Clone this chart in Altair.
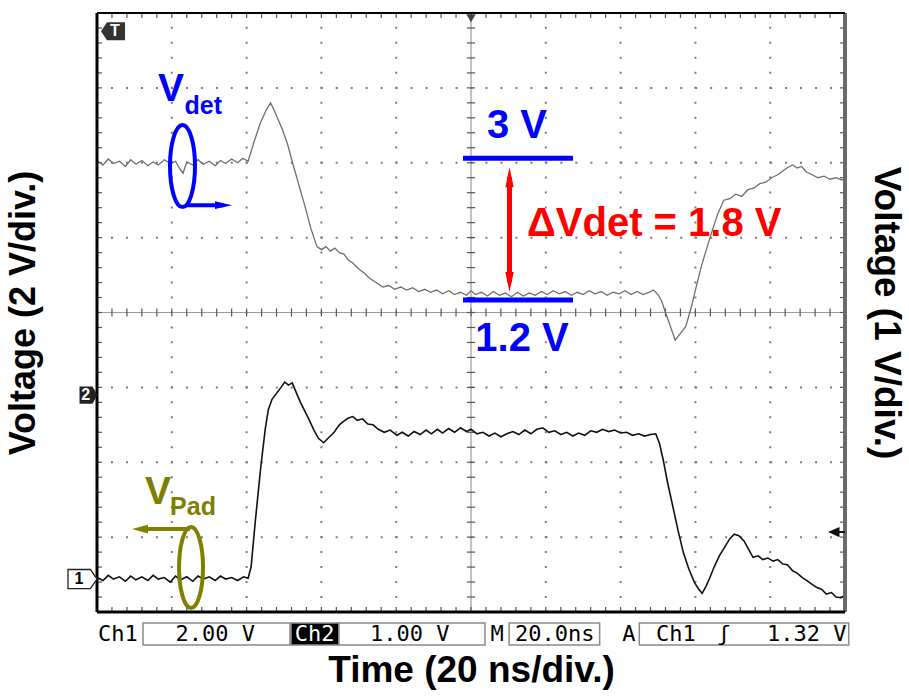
import altair as alt
import pandas as pd

# ---------------- trace data (screen divisions: x 0..10, y 0..8 from bottom) -------------
vdet_t = [0.00, 0.08, 0.15, 0.22, 0.30, 0.38, 0.45, 0.52, 0.60, 0.68, 0.75, 0.82, 0.90, 0.98,
          1.05, 1.10, 1.15, 1.20, 1.28, 1.35, 1.42, 1.50, 1.58, 1.65, 1.72, 1.80, 1.88, 1.95,
          2.02, 2.10, 2.18, 2.26, 2.32, 2.36, 2.42, 2.48, 2.55, 2.62, 2.70, 2.78, 2.86, 2.94,
          3.00, 3.06, 3.12, 3.18, 3.24, 3.30, 3.36, 3.42, 3.50, 3.58, 3.64, 3.70, 3.76, 3.82,
          3.90, 3.98, 4.06, 4.14, 4.22, 4.30, 4.38, 4.46, 4.54, 4.62, 4.70, 4.78, 4.86, 4.94,
          5.00, 5.06, 5.14, 5.22, 5.30, 5.38, 5.46, 5.54, 5.62, 5.70, 5.78, 5.86, 5.94, 6.02,
          6.10, 6.18, 6.26, 6.34, 6.42, 6.50, 6.58, 6.66, 6.74, 6.82, 6.90, 6.98, 7.06, 7.14,
          7.22, 7.30, 7.38, 7.44, 7.50, 7.55, 7.60, 7.65, 7.73, 7.80, 7.87, 7.94, 8.00, 8.08,
          8.15, 8.22, 8.30, 8.38, 8.46, 8.54, 8.62, 8.70, 8.78, 8.86, 8.94, 9.02, 9.10, 9.18,
          9.24, 9.30, 9.36, 9.42, 9.48, 9.56, 9.64, 9.72, 9.80, 9.88, 9.96, 10.0]
vdet_v = [6.03, 5.97, 6.05, 5.99, 6.02, 5.95, 6.04, 5.98, 6.03, 5.96, 6.01, 5.97, 6.04, 5.99,
          6.02, 5.93, 5.86, 6.01, 5.97, 6.04, 5.98, 6.02, 5.96, 6.03, 5.99, 6.05, 6.00, 6.06,
          6.02, 6.28, 6.52, 6.70, 6.80, 6.72, 6.58, 6.44, 6.24, 5.98, 5.70, 5.42, 5.12, 4.88,
          4.84, 4.88, 4.82, 4.86, 4.80, 4.78, 4.70, 4.66, 4.58, 4.52, 4.46, 4.42, 4.38, 4.34,
          4.36, 4.31, 4.34, 4.30, 4.33, 4.28, 4.31, 4.27, 4.30, 4.25, 4.29, 4.24, 4.27, 4.23,
          4.29, 4.24, 4.27, 4.22, 4.28, 4.23, 4.26, 4.21, 4.27, 4.22, 4.26, 4.23, 4.28, 4.24,
          4.29, 4.25, 4.28, 4.23, 4.27, 4.24, 4.29, 4.25, 4.28, 4.23, 4.27, 4.25, 4.29, 4.24,
          4.28, 4.24, 4.27, 4.30, 4.24, 4.15, 4.00, 3.86, 3.63, 3.72, 3.81, 4.05, 4.30, 4.62,
          4.85, 5.08, 5.32, 5.50, 5.52, 5.58, 5.55, 5.64, 5.66, 5.72, 5.74, 5.80, 5.84, 5.90,
          5.94, 5.97, 5.93, 5.95, 5.88, 5.84, 5.80, 5.82, 5.78, 5.80, 5.77, 5.79]

vpad_t = [0.00, 0.08, 0.15, 0.22, 0.30, 0.38, 0.45, 0.52, 0.60, 0.68, 0.75, 0.82, 0.90, 0.98,
          1.05, 1.12, 1.20, 1.28, 1.35, 1.42, 1.50, 1.58, 1.65, 1.72, 1.80, 1.88, 1.96, 2.02,
          2.06, 2.12, 2.19, 2.25, 2.29, 2.34, 2.40, 2.46, 2.51, 2.56, 2.61, 2.66, 2.72, 2.78,
          2.84, 2.90, 2.96, 3.03, 3.10, 3.17, 3.24, 3.30, 3.36, 3.42, 3.48, 3.55, 3.62, 3.69,
          3.76, 3.84, 3.92, 4.01, 4.08, 4.16, 4.24, 4.32, 4.40, 4.47, 4.55, 4.62, 4.70, 4.78,
          4.86, 4.94, 5.00, 5.08, 5.16, 5.24, 5.32, 5.40, 5.48, 5.56, 5.64, 5.72, 5.80, 5.88,
          5.96, 6.04, 6.12, 6.20, 6.28, 6.36, 6.44, 6.52, 6.60, 6.68, 6.76, 6.84, 6.92, 7.00,
          7.08, 7.16, 7.24, 7.32, 7.40, 7.47, 7.52, 7.57, 7.63, 7.70, 7.77, 7.84, 7.91, 7.99,
          8.04, 8.09, 8.14, 8.19, 8.25, 8.32, 8.40, 8.46, 8.52, 8.58, 8.65, 8.71, 8.77, 8.84,
          8.90, 8.97, 9.04, 9.10, 9.17, 9.23, 9.30, 9.36, 9.43, 9.49, 9.56, 9.62, 9.69, 9.75,
          9.82, 9.88, 9.95, 10.0]
vpad_v = [0.46, 0.42, 0.49, 0.44, 0.47, 0.41, 0.48, 0.43, 0.47, 0.42, 0.49, 0.44, 0.46, 0.40,
          0.48, 0.43, 0.47, 0.41, 0.48, 0.44, 0.47, 0.42, 0.48, 0.44, 0.46, 0.42, 0.47, 0.45,
          0.60, 1.25, 1.94, 2.45, 2.70, 2.84, 2.92, 3.00, 3.07, 3.03, 3.06, 2.94, 2.80, 2.68,
          2.56, 2.43, 2.32, 2.26, 2.33, 2.40, 2.50, 2.55, 2.59, 2.61, 2.56, 2.58, 2.51, 2.50,
          2.44, 2.40, 2.43, 2.36, 2.40, 2.35, 2.41, 2.37, 2.43, 2.38, 2.44, 2.39, 2.45, 2.40,
          2.46, 2.41, 2.44, 2.38, 2.40, 2.35, 2.39, 2.34, 2.38, 2.41, 2.37, 2.43, 2.38, 2.44,
          2.46, 2.40, 2.42, 2.37, 2.40, 2.35, 2.39, 2.36, 2.42, 2.40, 2.44, 2.41, 2.43, 2.39,
          2.40, 2.36, 2.38, 2.35, 2.37, 2.38, 2.25, 2.03, 1.72, 1.40, 1.08, 0.79, 0.58, 0.39,
          0.31, 0.25, 0.34, 0.45, 0.60, 0.75, 0.88, 0.98, 1.04, 1.02, 0.95, 0.84, 0.73, 0.75,
          0.70, 0.72, 0.68, 0.70, 0.64, 0.63, 0.55, 0.52, 0.46, 0.42, 0.37, 0.33, 0.30, 0.24,
          0.26, 0.20, 0.19, 0.23]

# ---------------- texts -------------
x_title = "Time (20 ns/div.)"
y_left_title = "Voltage (2 V/div.)"
y_right_title = "Voltage (1 V/div.)"

ann_text = ["V", "det", "3 V", "1.2 V", "V", "Pad"]
ann_x = [0.99, 1.42, 5.615, 5.682, 0.816, 1.283]
ann_y = [6.98, 6.755, 6.49, 3.645, 1.60, 1.40]
ann_size = [39, 25, 40, 40, 39, 25]
ann_color = ["#0000ff", "#0000ff", "#0000ff", "#0000ff", "#808000", "#808000"]

delta_text = ["\u0394Vdet = 1.8 V"]
delta_x = [5.749]
delta_y = [5.18]

# level lines (3 V and 1.2 V)
lvl_x1 = [4.893, 4.893]
lvl_x2 = [6.364, 6.364]
lvl_y = [6.061, 4.166]

# status bar
status_text = ["Ch1", "2.00 V", "Ch2", "1.00 V", "M", "20.0ns", "A", "Ch1", "\u0283", "1.32 V"]
status_x = [0.28, 1.58, 2.91, 4.18, 5.35, 6.12, 7.11, 7.74, 8.38, 9.49]
status_color = ["black", "black", "white", "black", "black", "black", "black", "black", "black", "black"]
box_x1 = [0.615, 2.594, 3.235, 5.51, 7.25]
box_x2 = [2.58, 3.235, 5.187, 6.72, 10.05]
box_fill = ["white", "black", "white", "white", "white"]

grid_x = [1, 2, 3, 4, 6, 7, 8, 9]
grid_y = [1, 2, 3, 5, 6, 7]
minor_x = [i / 5 for i in range(1, 50)]
minor_y = [i / 5 for i in range(1, 40)]

# ---------------- scales -------------
XS = alt.Scale(domain=[0, 10], nice=False, zero=False)
YS = alt.Scale(domain=[0, 8], nice=False, zero=False)


def ex(f):
    return alt.X(f + ":Q", scale=XS, axis=None)


def ey(f):
    return alt.Y(f + ":Q", scale=YS, axis=None)


FONT = "Liberation Sans"

# grid (dotted)
vgrid = alt.Chart(pd.DataFrame({"x": grid_x, "y0": 0, "y1": 8})).mark_rule(
    color="#7a7a7a", strokeWidth=2, strokeDash=[2, 12.98], strokeDashOffset=1
).encode(x=ex("x"), y=ey("y0"), y2="y1:Q")
hgrid = alt.Chart(pd.DataFrame({"y": grid_y, "x0": 0, "x1": 10})).mark_rule(
    color="#7a7a7a", strokeWidth=2, strokeDash=[2, 12.98], strokeDashOffset=1
).encode(y=ey("y"), x=ex("x0"), x2="x1:Q")

# center crosshair
cross_v = alt.Chart(pd.DataFrame({"x": [5], "y0": [0], "y1": [8]})).mark_rule(
    color="#9a9a9a", strokeWidth=1.2).encode(x=ex("x"), y=ey("y0"), y2="y1:Q")
cross_h = alt.Chart(pd.DataFrame({"y": [4], "x0": [0], "x1": [10]})).mark_rule(
    color="#9a9a9a", strokeWidth=1.2).encode(y=ey("y"), x=ex("x0"), x2="x1:Q")

# minor ticks
tv_rows = []
for m in minor_x:
    tv_rows.append({"x": m, "y0": 0, "y1": 0.067})
    tv_rows.append({"x": m, "y0": 8 - 0.067, "y1": 8})
    tv_rows.append({"x": m, "y0": 4 - 0.055, "y1": 4 + 0.055})
th_rows = []
for m in minor_y:
    th_rows.append({"y": m, "x0": 0, "x1": 0.067})
    th_rows.append({"y": m, "x0": 10 - 0.067, "x1": 10})
    th_rows.append({"y": m, "x0": 5 - 0.055, "x1": 5 + 0.055})
ticks_v = alt.Chart(pd.DataFrame(tv_rows)).mark_rule(color="#555", strokeWidth=1.2).encode(
    x=ex("x"), y=ey("y0"), y2="y1:Q")
ticks_h = alt.Chart(pd.DataFrame(th_rows)).mark_rule(color="#555", strokeWidth=1.2).encode(
    y=ey("y"), x=ex("x0"), x2="x1:Q")

# traces
vdet = alt.Chart(pd.DataFrame({"t": vdet_t, "v": vdet_v})).mark_line(
    color="#6e6e6e", strokeWidth=1.3).encode(x=ex("t"), y=ey("v"))
vpad = alt.Chart(pd.DataFrame({"t": vpad_t, "v": vpad_v})).mark_line(
    color="#111111", strokeWidth=1.6).encode(x=ex("t"), y=ey("v"))

# borders + axis titles
left_axis = alt.Axis(title=y_left_title, labels=False, ticks=False, domain=False, grid=False,
                     orient="left", titleFont=FONT, titleFontSize=36, titleFontWeight="bold",
                     titleColor="black", titlePadding=55)
right_axis = alt.Axis(title=y_right_title, labels=False, ticks=False, domain=False, grid=False,
                      orient="right", titleAngle=90, titleFont=FONT, titleFontSize=37,
                      titleFontWeight="bold", titleColor="black", titlePadding=21)
bottom_axis = alt.Axis(title=x_title, labels=False, ticks=False, domain=False, grid=False,
                       orient="bottom", titleFont=FONT, titleFontSize=37, titleFontWeight="bold",
                       titleColor="black", titlePadding=40)

b_left = alt.Chart(pd.DataFrame({"x": [0], "y0": [0], "y1": [8]})).mark_rule(
    color="black", strokeWidth=3).encode(
    x=ex("x"), y=alt.Y("y0:Q", scale=YS, axis=left_axis), y2="y1:Q")
b_right = alt.Chart(pd.DataFrame({"x": [10], "y0": [0], "y1": [8]})).mark_rule(
    color="#6a6a6a", strokeWidth=4).encode(
    x=ex("x"), y=alt.Y("y0:Q", scale=YS, axis=right_axis), y2="y1:Q")
b_bottom = alt.Chart(pd.DataFrame({"y": [0], "x0": [0], "x1": [10]})).mark_rule(
    color="black", strokeWidth=3).encode(
    y=ey("y"), x=alt.X("x0:Q", scale=XS, axis=bottom_axis), x2="x1:Q")
b_top = alt.Chart(pd.DataFrame({"y": [8], "x0": [0], "x1": [10]})).mark_rule(
    color="black", strokeWidth=2).encode(y=ey("y"), x=ex("x0"), x2="x1:Q")

# annotations
ann_df = pd.DataFrame({"x": ann_x, "y": ann_y, "t": ann_text, "s": ann_size, "c": ann_color})
ann = alt.Chart(ann_df).mark_text(font=FONT, fontWeight="bold", baseline="middle", align="center").encode(
    x=ex("x"), y=ey("y"), text="t:N",
    size=alt.Size("s:Q", scale=None, legend=None),
    color=alt.Color("c:N", scale=None))
delta = alt.Chart(pd.DataFrame({"x": delta_x, "y": delta_y, "t": delta_text})).mark_text(
    font=FONT, fontWeight="bold", fontSize=40, color="#ff0000", align="left", baseline="middle"
).encode(x=ex("x"), y=ey("y"), text="t:N")

levels = alt.Chart(pd.DataFrame({"x0": lvl_x1, "x1": lvl_x2, "y": lvl_y})).mark_rule(
    color="#0000ff", strokeWidth=5).encode(x=ex("x0"), x2="x1:Q", y=ey("y"))

# red double arrow
red_shaft = alt.Chart(pd.DataFrame({"x": [5.515], "y0": [4.406], "y1": [5.808]})).mark_rule(
    color="#ff0000", strokeWidth=5).encode(x=ex("x"), y=ey("y0"), y2="y1:Q")
red_up = alt.Chart(pd.DataFrame({"x": [5.515], "y": [5.808]})).mark_point(
    shape="M 0,-1 L 0.42,1 L -0.42,1 Z", size=400, filled=True, color="#ff0000", opacity=1
).encode(x=ex("x"), y=ey("y"))
red_dn = alt.Chart(pd.DataFrame({"x": [5.515], "y": [4.406]})).mark_point(
    shape="M 0,1 L 0.42,-1 L -0.42,-1 Z", size=400, filled=True, color="#ff0000", opacity=1
).encode(x=ex("x"), y=ey("y"))

# ellipses + arrows
ell_b = ("M 0,-1 C 0.1684,-1 0.305,-0.5523 0.305,0 C 0.305,0.5523 0.1684,1 0,1 "
         "C -0.1684,1 -0.305,0.5523 -0.305,0 C -0.305,-0.5523 -0.1684,-1 0,-1 Z")
ell_o = ("M 0,-1 C 0.1635,-1 0.296,-0.5523 0.296,0 C 0.296,0.5523 0.1635,1 0,1 "
         "C -0.1635,1 -0.296,0.5523 -0.296,0 C -0.296,-0.5523 -0.1635,-1 0,-1 Z")
blue_ell = alt.Chart(pd.DataFrame({"x": [1.143], "y": [5.955]})).mark_point(
    shape=ell_b, size=6724, filled=False, color="#0000ff", strokeWidth=4, opacity=1
).encode(x=ex("x"), y=ey("y"))
olive_ell = alt.Chart(pd.DataFrame({"x": [1.257], "y": [0.594]})).mark_point(
    shape=ell_o, size=6561, filled=False, color="#808000", strokeWidth=4, opacity=1
).encode(x=ex("x"), y=ey("y"))
blue_line = alt.Chart(pd.DataFrame({"x0": [1.20], "x1": [1.69], "y": [5.434]})).mark_rule(
    color="#0000ff", strokeWidth=4).encode(x=ex("x0"), x2="x1:Q", y=ey("y"))
blue_head = alt.Chart(pd.DataFrame({"x": [1.691], "y": [5.434]})).mark_point(
    shape="M 1,0 L -1,-0.47 L -1,0.47 Z", size=289, filled=True, color="#0000ff", opacity=1
).encode(x=ex("x"), y=ey("y"))
olive_line = alt.Chart(pd.DataFrame({"x0": [0.60], "x1": [1.243], "y": [1.108]})).mark_rule(
    color="#808000", strokeWidth=4).encode(x=ex("x0"), x2="x1:Q", y=ey("y"))
olive_head = alt.Chart(pd.DataFrame({"x": [0.575], "y": [1.108]})).mark_point(
    shape="M -1,0 L 1,-0.55 L 1,0.55 Z", size=256, filled=True, color="#808000", opacity=1
).encode(x=ex("x"), y=ey("y"))

# scope markers
m_T = alt.Chart(pd.DataFrame({"x": [0.214], "y": [7.757]})).mark_point(
    shape="M -1,0 L -0.5,-0.75 L 1,-0.75 L 1,0.75 L -0.5,0.75 Z", size=576, filled=True,
    color="#333333", opacity=1).encode(x=ex("x"), y=ey("y"))
m_2 = alt.Chart(pd.DataFrame({"x": [-0.114], "y": [2.897]})).mark_point(
    shape="M 1,0 L 0.45,-0.95 L -1,-0.95 L -1,0.95 L 0.45,0.95 Z", size=324, filled=True,
    color="#222222", opacity=1).encode(x=ex("x"), y=ey("y"))
m_1 = alt.Chart(pd.DataFrame({"x": [-0.194], "y": [0.44]})).mark_point(
    shape="M 1,0 L 0.55,-0.66 L -1,-0.66 L -1,0.66 L 0.55,0.66 Z", size=841, filled=False,
    color="#222222", fill="white", strokeWidth=1.3, opacity=1).encode(x=ex("x"), y=ey("y"))
mark_txt = alt.Chart(pd.DataFrame({"x": [0.24, -0.15, -0.24], "y": [7.757, 2.897, 0.44],
                                   "t": ["T", "2", "1"], "c": ["white", "white", "black"]})).mark_text(
    font=FONT, fontWeight="bold", fontSize=16, baseline="middle", align="center").encode(
    x=ex("x"), y=ey("y"), text="t:N", color=alt.Color("c:N", scale=None))
m_trig = alt.Chart(pd.DataFrame({"x": [5.0], "y": [7.93]})).mark_point(
    shape="triangle-down", size=90, filled=True, color="#444444", opacity=1
).encode(x=ex("x"), y=ey("y"))
m_lvl = alt.Chart(pd.DataFrame({"x": [9.85], "y": [1.068]})).mark_point(
    shape="M -1,0 L 1,-0.9 L 1,0.9 Z", size=130, filled=True, color="#111111", opacity=1
).encode(x=ex("x"), y=ey("y"))
m_lvl_stem = alt.Chart(pd.DataFrame({"x0": [9.88], "x1": [10.0], "y": [1.068]})).mark_rule(
    color="#111111", strokeWidth=2).encode(x=ex("x0"), x2="x1:Q", y=ey("y"))

# status bar
boxes = alt.Chart(pd.DataFrame({"x0": box_x1, "x1": box_x2, "y0": -0.147, "y1": -0.441,
                                "f": box_fill})).mark_rect(stroke="#8a8a8a", strokeWidth=1.5).encode(
    x=ex("x0"), x2="x1:Q", y=ey("y0"), y2="y1:Q", fill=alt.Fill("f:N", scale=None))
status = alt.Chart(pd.DataFrame({"x": status_x, "y": -0.294, "t": status_text,
                                 "c": status_color})).mark_text(
    font="DejaVu Sans Mono", fontSize=22, baseline="middle", align="center").encode(
    x=ex("x"), y=ey("y"), text="t:N", color=alt.Color("c:N", scale=None))

chart = alt.layer(
    vgrid, hgrid, cross_v, cross_h, ticks_v, ticks_h,
    levels, vdet, vpad,
    b_left, b_right, b_bottom, b_top,
    red_shaft, red_up, red_dn, blue_ell, olive_ell, blue_line, blue_head, olive_line, olive_head,
    ann, delta,
    m_T, m_2, m_1, mark_txt, m_trig, m_lvl, m_lvl_stem,
    boxes, status,
).resolve_axis(x="independent", y="independent").properties(
    width=748, height=599,
    autosize=alt.AutoSizeParams(type="none"),
    padding={"left": 97, "top": 13, "right": 64, "bottom": 85},
    background="white",
).configure_view(stroke=None)

chart.save("out.html", embed_options={"renderer": "svg", "actions": False})
